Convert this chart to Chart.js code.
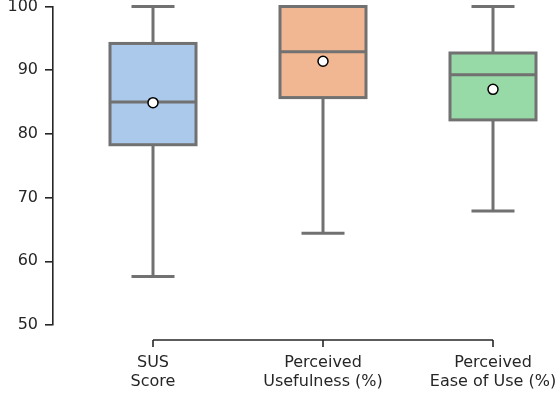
<!DOCTYPE html>
<html>
<head>
<meta charset="utf-8">
<script src="https://cdn.jsdelivr.net/npm/chart.js@4/dist/chart.umd.min.js"></script>
<style>
  html, body { margin: 0; padding: 0; background: #fff; }
  canvas { display: block; }
</style>
</head>
<body>
<canvas id="boxChart" width="560" height="398"></canvas>
<script>
// box plot summary per measure
const categories = [["SUS", "Score"], ["Perceived", "Usefulness (%)"], ["Perceived", "Ease of Use (%)"]];
const whiskerLow = [57.6, 64.4, 67.9];
const q1 = [78.3, 85.7, 82.2];
const median = [85.0, 92.9, 89.3];
const q3 = [94.2, 100, 92.7];
const whiskerHigh = [100, 100, 100];
const means = [84.9, 91.4, 87.0];
const yTicks = [50, 60, 70, 80, 90, 100];

const fills = ["#abc9ea", "#f0b792", "#98daa7"];
const edgeColor = "#717171";
const axisColor = "#262626";
const fontFamily = "'DejaVu Sans', sans-serif";
const boxWidth = 86;

// box outlines, whiskers, caps, medians and the trimmed x axis use the library's scales
const boxParts = {
  id: "boxParts",
  afterDatasetDraw(chart, args) {
    if (args.index !== 1) return;
    const x = chart.scales.x, y = chart.scales.y, ctx = chart.ctx;
    ctx.save();
    ctx.strokeStyle = edgeColor;
    ctx.lineWidth = 3;
    ctx.lineCap = "butt";
    const seg = (x0, y0, x1, y1) => { ctx.beginPath(); ctx.moveTo(x0, y0); ctx.lineTo(x1, y1); ctx.stroke(); };
    args.meta.data.forEach((bar, i) => {
      const b = bar.getProps(["x", "y", "base", "width"], true);
      const cx = b.x;
      const top = Math.min(b.y, b.base), bottom = Math.max(b.y, b.base);
      seg(cx, top, cx, y.getPixelForValue(whiskerHigh[i]));
      seg(cx, bottom, cx, y.getPixelForValue(whiskerLow[i]));
      const capHalf = b.width / 4;
      seg(cx - capHalf, y.getPixelForValue(whiskerHigh[i]), cx + capHalf, y.getPixelForValue(whiskerHigh[i]));
      seg(cx - capHalf, y.getPixelForValue(whiskerLow[i]), cx + capHalf, y.getPixelForValue(whiskerLow[i]));
      ctx.strokeRect(cx - b.width / 2, top, b.width, bottom - top);
      seg(cx - b.width / 2, y.getPixelForValue(median[i]), cx + b.width / 2, y.getPixelForValue(median[i]));
    });
    ctx.restore();
  },
  afterDraw(chart) {
    const x = chart.scales.x, ctx = chart.ctx;
    const axisY = chart.chartArea.bottom + 15;
    const first = x.getPixelForValue(0), last = x.getPixelForValue(categories.length - 1);
    ctx.save();
    ctx.strokeStyle = axisColor;
    ctx.lineWidth = 1.6;
    ctx.beginPath();
    ctx.moveTo(first, axisY);
    ctx.lineTo(last, axisY);
    ctx.stroke();
    ctx.fillStyle = axisColor;
    ctx.font = "16px " + fontFamily;
    ctx.textAlign = "center";
    ctx.textBaseline = "middle";
    categories.forEach((lines, i) => {
      const cx = x.getPixelForValue(i);
      ctx.beginPath();
      ctx.moveTo(cx, axisY);
      ctx.lineTo(cx, axisY + 7);
      ctx.stroke();
      lines.forEach((t, k) => ctx.fillText(t, cx, axisY + 23 + k * 19));
    });
    ctx.restore();
  }
};

new Chart(document.getElementById("boxChart"), {
  type: "bar",
  data: {
    datasets: [
      {
        type: "scatter",
        data: means.map((m, i) => ({ x: i, y: m })),
        pointRadius: 5,
        pointHoverRadius: 5,
        pointBackgroundColor: "#ffffff",
        pointBorderColor: "#000000",
        pointBorderWidth: 1.5,
        order: 0,
        clip: false,
      },
      {
        type: "bar",
        data: q1.map((v, i) => ({ x: i, y: [v, q3[i]] })),
        backgroundColor: fills,
        borderWidth: 0,
        barThickness: boxWidth,
        order: 1,
        clip: false,
      },
    ],
  },
  plugins: [boxParts],
  options: {
    responsive: false,
    animation: false,
    layout: { padding: { left: 0, right: 7, top: 6, bottom: 73 } },
    plugins: { legend: { display: false }, tooltip: { enabled: false } },
    scales: {
      x: {
        type: "linear",
        display: false,
        offset: false,
        min: -100 / 170,
        max: -100 / 170 + 500 / 170,
      },
      y: {
        min: 50,
        max: 100,
        afterBuildTicks: s => { s.ticks = yTicks.map(v => ({ value: v })); },
        afterFit: s => { s.width = 53; s.paddingTop = 0; s.paddingBottom = 0; },
        border: { display: true, color: axisColor, width: 1.6 },
        grid: { drawOnChartArea: false, drawTicks: true, tickLength: 8, tickColor: axisColor, lineWidth: 1.6 },
        ticks: { color: axisColor, padding: 7, font: { family: fontFamily, size: 16 } },
      },
    },
  },
});
</script>
</body>
</html>
